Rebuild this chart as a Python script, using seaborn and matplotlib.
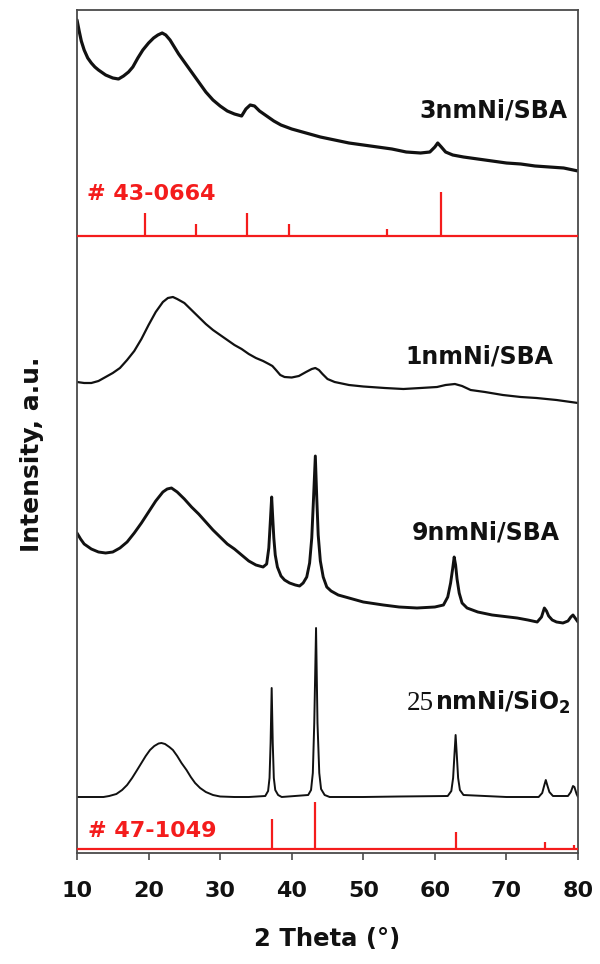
import numpy as np
import pandas as pd
import matplotlib
matplotlib.use("Agg")
import matplotlib.pyplot as plt
import seaborn as sns

# ---------------- data (offset a.u.) ----------------
theta_3nm = [10.0, 10.3, 10.6, 11.0, 11.5, 12.0, 12.5, 13.0, 14.0, 15.0, 15.8, 16.5, 17.2,
             17.8, 18.5, 19.2, 20.0, 20.7, 21.3, 21.9, 22.4, 23.0, 23.6, 24.2, 25.0, 26.0,
             27.0, 28.0, 29.0, 30.0, 31.0, 32.0, 33.0, 33.6, 34.2, 34.8, 35.5, 36.5, 37.5,
             38.5, 40.0, 42.0, 44.0, 46.0, 48.0, 50.0, 52.0, 54.0, 56.0, 58.0, 59.3, 60.0,
             60.4, 60.9, 61.5, 62.5, 64.0, 66.0, 68.0, 70.0, 72.0, 74.0, 76.0, 78.0, 80.0]
int_3nm = [833, 822, 812, 803, 795, 790, 786, 783, 778, 775, 774, 777, 781,
           786, 795, 803, 810, 815, 818, 820, 818, 813, 806, 799, 791, 781,
           771, 761, 753, 747, 742, 739, 737, 744, 748, 747, 742, 737, 732,
           728, 724, 720, 716, 713, 710, 708, 706, 704, 701, 700, 701, 706,
           710, 706, 701, 698, 696, 694, 692, 690, 689, 687, 686, 685, 682]

theta_1nm = [10.0, 11.0, 12.0, 13.0, 14.0, 15.0, 16.0, 17.0, 18.0, 19.0, 20.0, 21.0, 22.0,
             22.7, 23.4, 24.0, 25.0, 26.0, 27.0, 28.0, 29.0, 30.0, 31.0, 32.0, 33.0, 34.0,
             35.0, 36.0, 36.8, 37.3, 37.8, 38.4, 39.0, 40.0, 41.0, 42.0, 42.8, 43.3, 43.8,
             44.3, 45.0, 46.0, 48.0, 50.0, 53.0, 55.6, 58.0, 60.3, 61.5, 62.8, 63.8, 65.0,
             67.0, 69.5, 72.0, 74.2, 77.0, 80.0]
int_1nm = [471, 470, 470, 472, 476, 480, 485, 493, 502, 514, 528, 541, 551,
           555, 556, 554, 550, 543, 536, 529, 523, 518, 513, 508, 504, 499,
           495, 492, 489, 487, 483, 478, 476, 475.5, 477, 481, 484, 485, 483,
           479, 474, 471, 468, 466.5, 465, 464, 465, 466, 468, 469, 467, 463,
           461, 458, 456, 455, 453, 450]

theta_9nm = [10.0, 10.5, 11.0, 12.0, 13.0, 14.0, 15.0, 16.0, 17.0, 18.0, 19.0, 20.0, 21.0,
             22.0, 22.6, 23.2, 24.0, 25.0, 26.0, 27.0, 28.0, 29.0, 30.0, 31.0, 32.0, 33.0,
             34.0, 35.0, 36.0, 36.5, 36.8, 37.0, 37.2, 37.35, 37.5, 37.7, 38.0, 38.5, 39.0,
             39.7, 40.5, 41.1, 41.6, 42.1, 42.5, 42.8, 43.05, 43.3, 43.5, 43.7, 44.0, 44.4,
             44.9, 45.5, 46.5, 48.0, 50.0, 52.8, 55.0, 57.5, 60.0, 61.2, 61.8, 62.2, 62.5,
             62.7, 62.9, 63.1, 63.4, 63.8, 64.5, 66.0, 68.0, 71.5, 73.0, 74.3, 74.9, 75.3,
             75.6, 75.9, 76.4, 77.0, 77.9, 78.6, 79.0, 79.3, 79.6, 80.0]
int_9nm = [320, 314, 309, 304, 301, 300, 301, 305, 311, 320, 330, 341, 352,
           361, 364, 365, 361, 354, 346, 339, 331, 323, 316, 309, 304, 298,
           292, 288, 286, 289, 305, 330, 356, 335, 315, 298, 286, 277, 273,
           270, 268, 267, 270, 276, 290, 315, 355, 397, 355, 318, 292, 276,
           266, 262, 258, 255, 251, 248, 246, 245, 246, 248, 256, 270, 285,
           296, 288, 274, 260, 250, 245, 241, 238, 235, 233, 231, 236, 245,
           242, 237, 233, 231, 230, 232, 236, 238, 235, 231]

theta_25nm = [10.0, 12.0, 13.7, 14.5, 15.5, 16.3, 17.0, 17.7, 18.4, 19.0, 19.6, 20.2, 20.8,
              21.4, 21.8, 22.3, 22.9, 23.4, 24.0, 24.6, 25.3, 25.9, 26.5, 27.2, 28.0, 29.0,
              30.0, 32.0, 34.0, 36.3, 36.7, 36.9, 37.05, 37.2, 37.35, 37.5, 37.7, 38.1, 38.6,
              42.3, 42.7, 42.95, 43.15, 43.4, 43.6, 43.85, 44.1, 44.6, 45.3, 50.0, 55.0,
              61.8, 62.3, 62.55, 62.75, 62.9, 63.05, 63.25, 63.5, 64.0, 70.0, 74.5, 75.0,
              75.3, 75.5, 75.7, 76.0, 76.5, 78.6, 79.0, 79.3, 79.5, 79.8, 80.0]
int_25nm = [56, 56, 56, 57, 59, 63, 68, 75, 83, 90, 97, 103, 107,
            109.5, 110, 109, 106, 103, 97, 90, 83, 76, 70, 65, 61, 58,
            56.5, 56, 56, 57, 62, 75, 110, 165, 110, 75, 63, 58, 56,
            58, 63, 80, 130, 225, 130, 80, 64, 58, 56, 56, 56.5,
            57, 62, 75, 100, 118, 100, 75, 63, 58, 56, 56, 60,
            68, 73, 68, 61, 57, 57, 61, 67, 66, 59, 56]

# reference patterns (JCPDS cards): stick positions and heights
ref_top_pos = [19.5, 26.6, 33.7, 39.6, 53.3, 60.9]
ref_top_h = [23, 12, 23, 12, 7, 44]
ref_top_base = 617
ref_bot_pos = [37.2, 43.3, 62.9, 75.4, 79.4]
ref_bot_h = [29.5, 46.5, 16.5, 6.5, 3.5]
ref_bot_base = 4.5

sample_labels = ["3nmNi/SBA", "1nmNi/SBA", "9nmNi/SBA", "nmNi/SiO$_\\mathbf{2}$"]
size_prefix = "25"
card_labels = ["# 43-0664", "# 47-1049"]
x_ticks = [10, 20, 30, 40, 50, 60, 70, 80]

# ---------------- style ----------------
sns.set_style("ticks")
plt.rcParams["font.family"] = ["DejaVu Sans"]
plt.rcParams["mathtext.fontset"] = "custom"
plt.rcParams["mathtext.rm"] = "DejaVu Sans:bold"
plt.rcParams["mathtext.bf"] = "DejaVu Sans:bold"

RED = "#f41c1c"
INK = "#111111"
FRAME = "#4a4a4a"

fig = plt.figure(figsize=(6.0, 9.64), dpi=100)
ax = fig.add_axes([77 / 600, 1 - 853 / 964, 501 / 600, 843 / 964])

traces = [
    (theta_3nm, int_3nm, 2.3),
    (theta_1nm, int_1nm, 1.6),
    (theta_9nm, int_9nm, 2.1),
    (theta_25nm, int_25nm, 1.4),
]
for th, yy, lw in traces:
    df = pd.DataFrame({"theta": th, "I": yy})
    sns.lineplot(data=df, x="theta", y="I", ax=ax, color=INK, lw=lw,
                 sort=False, estimator=None)

# reference sticks
ax.axhline(ref_top_base, color=RED, lw=1.6, zorder=3)
ax.vlines(ref_top_pos, ref_top_base, np.add(ref_top_base, ref_top_h), color=RED, lw=1.6)
ax.axhline(ref_bot_base, color=RED, lw=1.6, zorder=3)
ax.vlines(ref_bot_pos, ref_bot_base, np.add(ref_bot_base, ref_bot_h), color=RED, lw=1.6)

# labels
txt = dict(fontsize=17, fontweight="bold", va="baseline")
ax.text(78.5, 735, sample_labels[0], ha="right", color=INK, **txt)
ax.text(76.5, 490, sample_labels[1], ha="right", color=INK, **txt)
ax.text(77.5, 313, sample_labels[2], ha="right", color=INK, **txt)
t25 = ax.text(78.9, 143, sample_labels[3], ha="right", color=INK, **txt)
ax.text(11.4, 653, card_labels[0], ha="left", color=RED, fontsize=16,
        fontweight="bold", va="baseline")
ax.text(11.5, 16, card_labels[1], ha="left", color=RED, fontsize=16,
        fontweight="bold", va="baseline")

ax.set_xlim(10, 80)
ax.set_ylim(0, 843)
ax.set_xticks(x_ticks)
ax.set_yticks([])
ax.tick_params(axis="x", direction="out", length=5, width=1.2, color=FRAME,
               pad=15, labelsize=16, labelcolor=INK)
for lab in ax.get_xticklabels():
    lab.set_fontweight("bold")
for sp in ax.spines.values():
    sp.set_visible(True)
    sp.set_color(FRAME)
    sp.set_linewidth(1.3)

ax.set_xlabel("2 Theta (°)", fontsize=17.5, fontweight="bold", labelpad=19, color=INK)
ax.set_ylabel("Intensity, a.u.", fontsize=18, fontweight="bold", color=INK)
ax.yaxis.set_label_coords(-0.066, 0.473)

# "25" prefix in a serif face, placed just left of the bold label
fig.canvas.draw()
bb = t25.get_window_extent(renderer=fig.canvas.get_renderer())
x_left = ax.transData.inverted().transform((bb.x0 - 1, bb.y0))[0]
ax.text(x_left, 143, size_prefix, ha="right", va="baseline", color=INK,
        fontsize=19.5, family="Liberation Serif")

fig.savefig("out.png", dpi=100, facecolor="white")
